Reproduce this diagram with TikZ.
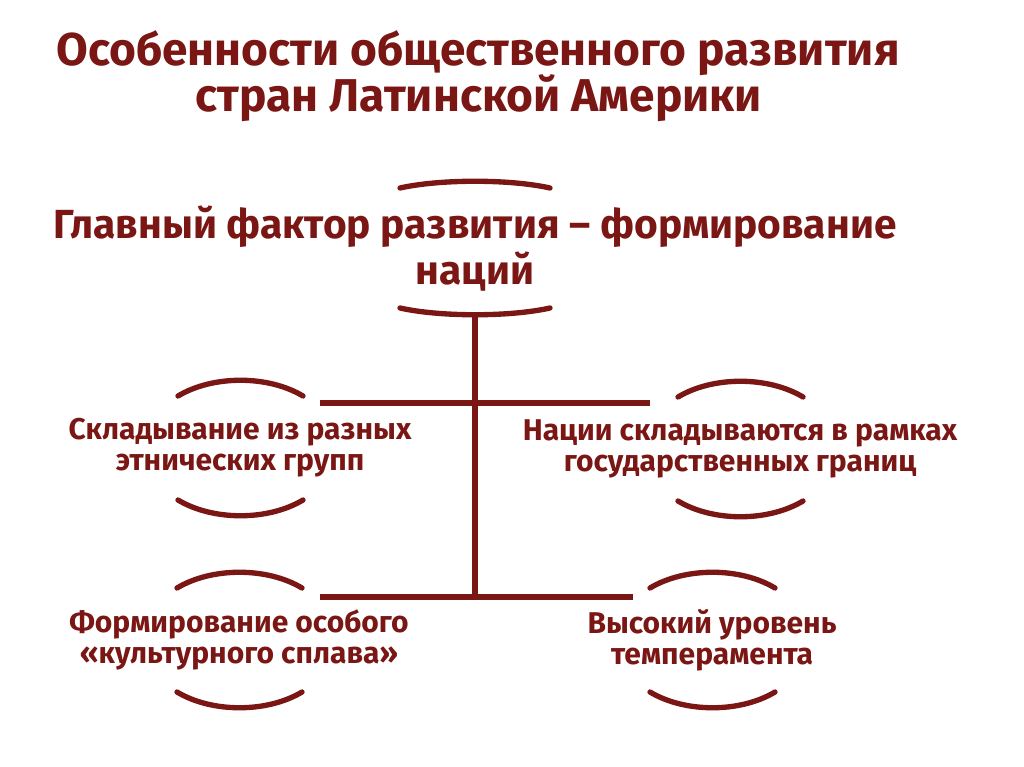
\documentclass[tikz,border=0pt]{standalone}
\usepackage{fontspec}
\setmainfont{Fira Sans}
\usetikzlibrary{positioning}
\definecolor{maroon}{RGB}{122,22,20}
\tikzset{
  txt/.style={text=maroon, font=\bfseries, align=center, inner sep=0pt},
  headline/.style={txt, anchor=base, font=\bfseries\fontsize{34.5}{40}\selectfont},
  bar/.style={draw=maroon, line width=4.4pt},
  arcline/.style={draw=maroon, line width=4pt, line cap=round}
}
\newcommand{\arcpair}[1]{%
  \draw[arcline, shift={(#1)}] (-62,-52) .. controls (-27,-73) and (28,-73) .. (63,-52);
  \draw[arcline, shift={(#1)}] (-62,52) .. controls (-27,73) and (28,73) .. (63,52);}

\begin{document}
\begin{tikzpicture}[x=0.75pt, y=-0.75pt]
      \useasboundingbox (0,0) rectangle (1024,767);
      \node[headline] (title) at (478,66) {Особенности общественного развития};
      \node[headline] (subtitle) at (479,112) {стран Латинской Америки};
      \node[txt, font=\bfseries\fontsize{30.5}{34.5}\selectfont] (main) at (475,249)
        {Главный фактор развития – формирование\\наций};
      \node[txt, font=\bfseries\fontsize{22.5}{23}\selectfont] (ethnic) at (240,448)
        {Складывание из разных\\этнических групп};
      \node[txt, font=\bfseries\fontsize{22.5}{23}\selectfont] (borders) at (740,449)
        {Нации складываются в рамках\\государственных границ};
      \node[txt, font=\bfseries\fontsize{22.5}{23}\selectfont] (alloy) at (239,640)
        {Формирование особого\\«культурного сплава»};
      \node[txt, font=\bfseries\fontsize{22.5}{23}\selectfont] (temper) at (712,640)
        {Высокий уровень\\темперамента};
      \draw[arcline, shift={(main)}] (-75,-61) .. controls (-35,-70) and (35,-70) .. (75,-61);
      \draw[arcline, shift={(main)}] (-75,59) .. controls (-35,68) and (35,68) .. (75,59);
      \arcpair{ethnic} \arcpair{borders} \arcpair{alloy} \arcpair{temper}
      \coordinate (trunk) at (475,314);
      \coordinate (hubA) at (475,403); \coordinate (hubB) at (475,597);
      \coordinate (ethnicEnd) at (320,403); \coordinate (bordersEnd) at (650,403);
      \coordinate (alloyEnd) at (320,597); \coordinate (temperEnd) at (633,597);
      \draw[bar] (trunk) -- (hubB);
      \draw[bar] (ethnicEnd) -- (bordersEnd);
      \draw[bar] (alloyEnd) -- (temperEnd);
    \end{tikzpicture}
\end{document}
